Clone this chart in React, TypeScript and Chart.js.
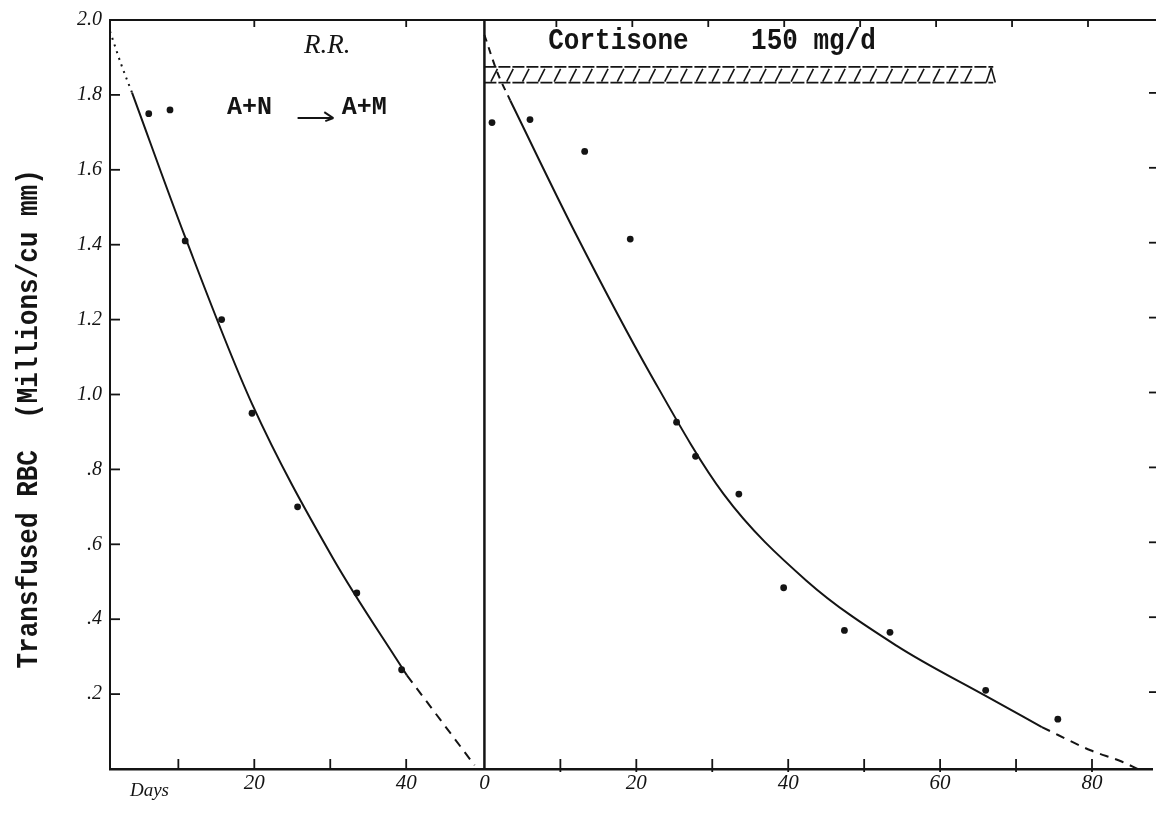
import React, { useEffect, useRef } from "react";
import { Chart, registerables } from "chart.js";

Chart.register(...registerables);

// ---------------- Data ----------------
// Left panel: R.R.  (A+N -> A+M)  — days vs transfused RBC (millions / cu mm)
const rrDotDays = [6.1, 8.9, 10.9, 15.7, 19.7, 25.7, 33.5, 39.4];
const rrDotRbc = [1.75, 1.76, 1.41, 1.2, 0.95, 0.7, 0.47, 0.265];
const rrFitDays = [3.9, 10.9, 19.7, 30.3, 40.1];
const rrFitRbc = [1.806, 1.42, 0.975, 0.565, 0.25];
const rrDottedDays = [1.0, 2.5, 3.9];
const rrDottedRbc = [1.97, 1.88, 1.806];
const rrDashedDays = [40.1, 49.0];
const rrDashedRbc = [0.25, 0.01];

// Right panel: Cortisone 150 mg/d
const corDotDays = [1.0, 6.0, 13.2, 19.2, 25.3, 27.8, 33.5, 39.4, 47.4, 53.4, 66.0, 75.5];
const corDotRbc = [1.726, 1.734, 1.649, 1.415, 0.926, 0.835, 0.734, 0.484, 0.37, 0.365, 0.21, 0.133];
const corFitDays = [3.4, 11.9, 21.9, 31.5, 42.4, 54.2, 66.0, 73.4];
const corFitRbc = [1.785, 1.434, 1.053, 0.734, 0.503, 0.33, 0.195, 0.112];
const corDashedStartDays = [0, 1.7, 3.4];
const corDashedStartRbc = [1.96, 1.86, 1.785];
const corDashedEndDays = [73.4, 79.8, 83.9, 86.0];
const corDashedEndRbc = [0.112, 0.05, 0.02, 0.0];
const cortisoneStartDay = 0;
const cortisoneEndDay = 67;
const cortisoneBarRbc = [1.833, 1.875];

// Ticks
const yTickValues = [0, 0.2, 0.4, 0.6, 0.8, 1.0, 1.2, 1.4, 1.6, 1.8, 2.0];
const yTickLabels = ["", ".2", ".4", ".6", ".8", "1.0", "1.2", "1.4", "1.6", "1.8", "2.0"];
const leftTickDays = [10, 20, 30, 40];
const leftTickLabels = ["", "20", "", "40"];
const rightTickDays = [0, 10, 20, 30, 40, 50, 60, 70, 80];
const rightTickLabels = ["0", "", "20", "", "40", "", "60", "", "80"];
const leftTopTickDays = [20, 40];
const rightTopTickDays = [10, 20, 30, 40, 50, 60, 70, 80];

// Texts
const yTitle = "Transfused RBC  (Millions/cu mm)";
const leftTitle = "R.R.";
const leftFrom = "A+N";
const leftTo = "A+M";
const rightTitle = "Cortisone    150 mg/d";
const xUnit = "Days";

// ---------------- Axis geometry ----------------
const X_MIN = 1;
const RIGHT_OFFSET = 50.3;
const X_MAX = 138.2;
const INK = "#141414";

const pts = (xs: number[], ys: number[], off = 0) =>
  xs.map((x, i) => ({ x: x + off, y: ys[i] }));

const lineDs = (label: string, data: any[], dash: number[]) => ({
  label,
  data,
  showLine: true,
  borderColor: INK,
  borderWidth: 2,
  borderDash: dash,
  pointRadius: 0,
  pointHoverRadius: 0,
  cubicInterpolationMode: "monotone" as const,
  fill: false,
  order: 2,
});

const dotDs = (label: string, data: any[]) => ({
  label,
  data,
  showLine: false,
  pointRadius: 3.4,
  pointBackgroundColor: INK,
  pointBorderWidth: 0,
  order: 0,
});

const xTickValues = [...leftTickDays, ...rightTickDays.map((d) => d + RIGHT_OFFSET)];
const xTickLabels = [...leftTickLabels, ...rightTickLabels];

const decorPlugin = {
  id: "decor",
  afterDraw(chart: any) {
    const { ctx, chartArea: a, scales } = chart;
    const xs = scales.x;
    const ys = scales.y;
    const L = (d: number) => xs.getPixelForValue(d);
    const R = (d: number) => xs.getPixelForValue(RIGHT_OFFSET + d);
    const Y = (v: number) => ys.getPixelForValue(v);
    const line = (x0: number, y0: number, x1: number, y1: number) => {
      ctx.beginPath();
      ctx.moveTo(x0, y0);
      ctx.lineTo(x1, y1);
      ctx.stroke();
    };
    const text = (s: string, px: number, py: number, font: string, align: CanvasTextAlign = "left", sy = 1) => {
      ctx.save();
      ctx.font = font;
      ctx.textAlign = align;
      ctx.textBaseline = "alphabetic";
      ctx.translate(px, py);
      ctx.scale(1, sy);
      ctx.fillText(s, 0, 0);
      ctx.restore();
    };

    ctx.save();
    ctx.strokeStyle = INK;
    ctx.fillStyle = INK;
    ctx.lineCap = "butt";

    // top frame line
    ctx.lineWidth = 2;
    line(a.left - 1, a.top, chart.width, a.top);
    // divider between the two periods
    ctx.lineWidth = 2.5;
    line(R(0), a.top, R(0), a.bottom);

    // y ticks (inside) and right-edge marks
    ctx.lineWidth = 1.8;
    yTickValues.forEach((v) => {
      if (v <= 0 || v >= 2) return;
      line(a.left, Y(v), a.left + 10, Y(v));
      line(chart.width - 7, Y(v) - 2, chart.width, Y(v) - 2);
    });
    // bottom ticks (inside)
    leftTickDays.forEach((d) => line(L(d), a.bottom, L(d), a.bottom - 10));
    rightTickDays.forEach((d) => {
      if (d === 0) return;
      line(R(d), a.bottom + 3, R(d), a.bottom - 10);
    });
    // top ticks
    leftTopTickDays.forEach((d) => line(L(d), a.top, L(d), a.top + 7));
    rightTopTickDays.forEach((d) => line(R(d) - 4, a.top, R(d) - 4, a.top + 7));

    // cortisone hatched bar
    const bx0 = R(cortisoneStartDay);
    const bx1 = R(cortisoneEndDay);
    const byB = Y(cortisoneBarRbc[0]);
    const byT = Y(cortisoneBarRbc[1]);
    ctx.lineWidth = 1.7;
    ctx.setLineDash([12, 2]);
    line(bx0, byT, bx1, byT);
    line(bx0, byB, bx1, byB);
    ctx.setLineDash([]);
    ctx.lineWidth = 1.6;
    for (let sx = bx0 + 10; sx < bx1 - 10; sx += 15.8) {
      line(sx - 3.5, byB - 1, sx + 3, byT + 2);
    }
    line(bx1 - 7, byB, bx1 - 2, byT + 1);
    line(bx1 - 2, byT + 1, bx1 + 2, byB);

    // annotations
    text(leftTitle, L(29.6), Y(1.912), 'italic 27px "Liberation Serif"', "center");
    text(leftFrom, L(16.4), Y(1.748), 'bold 25px "Liberation Mono"');
    text(leftTo, L(31.5), Y(1.748), 'bold 25px "Liberation Mono"');
    const ay = Y(1.738);
    const ax0 = L(25.7);
    const ax1 = L(30.4);
    ctx.lineWidth = 2;
    line(ax0, ay, ax1, ay);
    line(ax1, ay, ax1 - 9, ay - 6);
    line(ax1, ay, ax1 - 8, ay + 3);
    text(rightTitle, R(8.4), Y(1.923), 'bold 26px "Liberation Mono"', "left", 1.15);
    text(xUnit, L(6.2), Y(-0.072), 'italic 19px "Liberation Serif"', "center");

    // y-axis title (rotated)
    ctx.save();
    ctx.translate(37, Y(0.935));
    ctx.rotate(-Math.PI / 2);
    ctx.scale(1, 1.1);
    ctx.font = 'bold 26px "Liberation Mono"';
    ctx.textAlign = "center";
    ctx.textBaseline = "alphabetic";
    ctx.fillText(yTitle, 0, 0);
    ctx.restore();

    ctx.restore();
  },
};

export default function App() {
  const ref = useRef<HTMLCanvasElement | null>(null);

  useEffect(() => {
    const canvas = ref.current;
    if (!canvas) return;
    const chart = new Chart(canvas, {
      type: "scatter",
      data: {
        datasets: [
          dotDs("R.R. observed", pts(rrDotDays, rrDotRbc)),
          dotDs("Cortisone observed", pts(corDotDays, corDotRbc, RIGHT_OFFSET)),
          lineDs("R.R. curve", pts(rrFitDays, rrFitRbc), []),
          lineDs("R.R. start", pts(rrDottedDays, rrDottedRbc), [2, 5]),
          lineDs("R.R. extrapolated", pts(rrDashedDays, rrDashedRbc), [9, 7]),
          lineDs("Cortisone curve", pts(corFitDays, corFitRbc, RIGHT_OFFSET), []),
          lineDs("Cortisone start", pts(corDashedStartDays, corDashedStartRbc, RIGHT_OFFSET), [7, 6]),
          lineDs("Cortisone extrapolated", pts(corDashedEndDays, corDashedEndRbc, RIGHT_OFFSET), [9, 7]),
        ] as any,
      },
      options: {
        responsive: false,
        animation: false,
        events: [],
        layout: { padding: { top: 15, right: 0, bottom: 0, left: 0 } },
        plugins: {
          legend: { display: false },
          tooltip: { enabled: false },
          title: { display: false },
        },
        scales: {
          x: {
            type: "linear",
            min: X_MIN,
            max: X_MAX,
            afterBuildTicks: (s: any) => {
              s.ticks = xTickValues.map((v) => ({ value: v }));
            },
            afterFit: (s: any) => {
              s.height = 58;
            },
            ticks: {
              autoSkip: false,
              maxRotation: 0,
              padding: 2,
              color: INK,
              font: { family: '"Liberation Serif"', style: "italic", size: 21 },
              callback: (_v: any, i: number) => xTickLabels[i],
            },
            grid: { display: false, drawTicks: false },
            border: { display: true, color: INK, width: 2.5 },
          },
          y: {
            type: "linear",
            min: 0,
            max: 2,
            afterBuildTicks: (s: any) => {
              s.ticks = yTickValues.map((v) => ({ value: v }));
            },
            afterFit: (s: any) => {
              s.width = 110;
            },
            ticks: {
              autoSkip: false,
              padding: 8,
              color: INK,
              font: { family: '"Liberation Serif"', style: "italic", size: 20 },
              callback: (_v: any, i: number) => yTickLabels[i],
            },
            grid: { display: false, drawTicks: false },
            border: { display: true, color: INK, width: 2 },
          },
        },
      } as any,
      plugins: [decorPlugin],
    });
    return () => chart.destroy();
  }, []);

  return (
    <div style={{ position: "fixed", left: 0, top: 0, width: 1156, height: 827, background: "#fff" }}>
      <canvas ref={ref} width={1156} height={827} style={{ display: "block" }} />
    </div>
  );
}
